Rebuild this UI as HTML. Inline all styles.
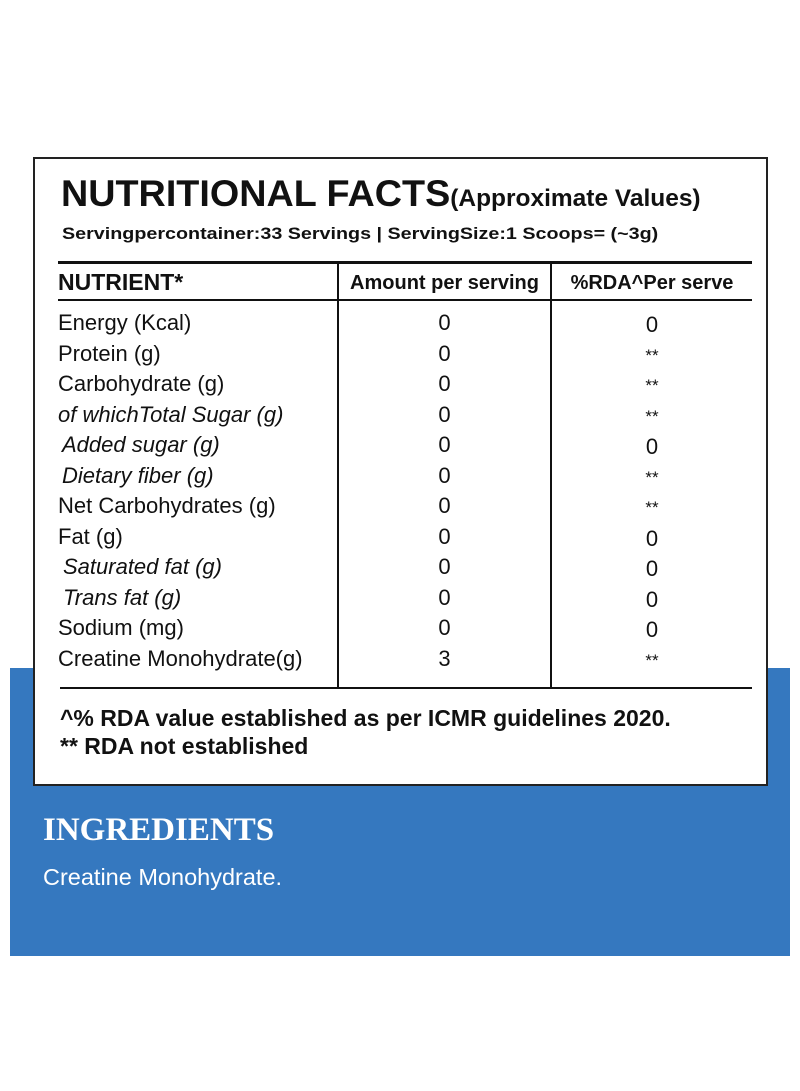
<!DOCTYPE html>
<html><head><meta charset="utf-8"><style>
body{margin:0;width:800px;height:1091px;background:#fff;position:relative;overflow:hidden;font-family:"Liberation Sans",sans-serif;color:#111}
.a{position:absolute;white-space:nowrap;line-height:1}
.r{font-size:22px}
.c{text-align:center}
</style></head><body>
<div style="position:absolute;left:10px;top:668px;width:780px;height:288px;background:#3578bf"></div>
<div style="position:absolute;left:33px;top:157px;width:731px;height:625px;background:#fff;border:2px solid #222"></div>
<div class="a" style="left:61px;top:175px;font-size:37px;font-weight:bold;transform:scaleX(1.02);transform-origin:left">NUTRITIONAL FACTS<span style="font-size:24px">(Approximate Values)</span></div>
<div class="a" style="left:62px;top:225px;font-size:17px;font-weight:bold;transform:scaleX(1.16);transform-origin:left">Servingpercontainer:33 Servings | ServingSize:1 Scoops= (~3g)</div>
<div style="position:absolute;left:58px;top:261px;width:694px;height:3px;background:#111"></div>
<div style="position:absolute;left:58px;top:299px;width:694px;height:2px;background:#111"></div>
<div style="position:absolute;left:60px;top:687px;width:692px;height:2px;background:#111"></div>
<div style="position:absolute;left:337px;top:262px;width:2px;height:426px;background:#111"></div>
<div style="position:absolute;left:550px;top:262px;width:2px;height:426px;background:#111"></div>
<div class="a" style="left:58px;top:271px;font-size:23px;font-weight:bold">NUTRIENT*</div>
<div class="a c" style="left:339px;width:211px;top:273px;font-size:20px;font-weight:bold">Amount per serving</div>
<div class="a c" style="left:552px;width:200px;top:273px;font-size:20px;font-weight:bold">%RDA^Per serve</div>
<div id="rows"></div>
<div class="a" style="left:60px;top:707px;font-size:23px;font-weight:bold">^% RDA value established as per ICMR guidelines 2020.</div>
<div class="a" style="left:60px;top:735px;font-size:23px;font-weight:bold">** RDA not established</div>
<div class="a" style="left:43px;top:814px;font-size:33px;font-weight:bold;color:#fff;font-family:'Liberation Serif',serif">INGREDIENTS</div>
<div class="a" style="left:43px;top:866px;font-size:23.5px;color:#fff">Creatine Monohydrate.</div>
<script>
const names=["Energy (Kcal)","Protein (g)","Carbohydrate (g)","of whichTotal Sugar (g)","Added sugar (g)","Dietary fiber (g)","Net Carbohydrates (g)","Fat (g)","Saturated fat (g)","Trans fat (g)","Sodium (mg)","Creatine Monohydrate(g)"];
const amounts=["0","0","0","0","0","0","0","0","0","0","0","3"];
const rdas=["0","**","**","**","0","**","**","0","0","0","0","**"];
const italic=[0,0,0,1,1,1,0,0,1,1,0,0];
const indent=[0,0,0,0,4,4,0,0,5,5,0,0];
const box=document.getElementById('rows');
names.forEach((n,i)=>{
  const y=312+i*30.5;
  const a=document.createElement('div');a.className='a r';
  
  
  a.style.left=(58+indent[i])+'px';a.style.top=y+'px';if(italic[i])a.style.fontStyle='italic';a.textContent=n;box.appendChild(a);
  const b=document.createElement('div');b.className='a r c';
  
  
  b.style.left='339px';b.style.width='211px';b.style.top=y+'px';b.textContent=amounts[i];box.appendChild(b);
  const c=document.createElement('div');c.className='a r c';
  
  
  c.style.left='552px';c.style.width='200px';c.style.top=(y+(rdas[i]==='**'?4:2))+'px';c.style.fontSize=rdas[i]==='**'?'17px':'22px';c.textContent=rdas[i];box.appendChild(c);
});
</script>
</body></html>
